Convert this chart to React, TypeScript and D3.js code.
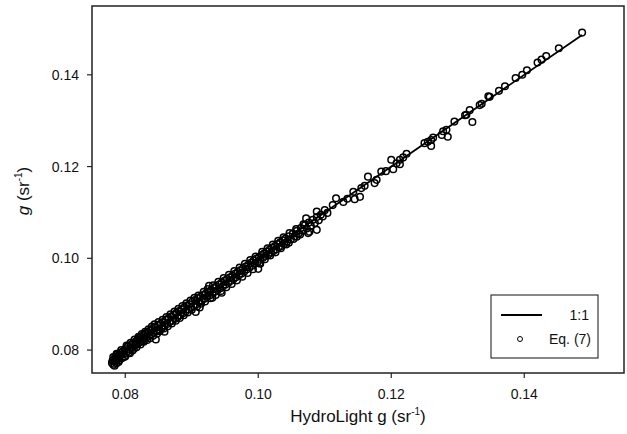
import React from "react";
import * as d3 from "d3";

const hydroG: number[] = [
  0.0780, 0.0781, 0.0782, 0.0783, 0.0784, 0.0785, 0.0786, 0.0787, 0.0788, 0.0789,
  0.0790, 0.0791, 0.0792, 0.0793, 0.0795, 0.0796, 0.0797, 0.0799, 0.0800, 0.0801,
  0.0803, 0.0804, 0.0806, 0.0807, 0.0809, 0.0810, 0.0812, 0.0813, 0.0815, 0.0816,
  0.0818, 0.0819, 0.0821, 0.0822, 0.0824, 0.0826, 0.0827, 0.0829, 0.0831, 0.0832,
  0.0834, 0.0836, 0.0838, 0.0839, 0.0841, 0.0843, 0.0845, 0.0846, 0.0847, 0.0849,
  0.0851, 0.0853, 0.0855, 0.0857, 0.0859, 0.0859, 0.0861, 0.0863, 0.0865, 0.0867,
  0.0869, 0.0871, 0.0873, 0.0875, 0.0877, 0.0879, 0.0881, 0.0883, 0.0885, 0.0887,
  0.0889, 0.0891, 0.0893, 0.0895, 0.0897, 0.0899, 0.0901, 0.0903, 0.0905, 0.0906,
  0.0907, 0.0909, 0.0911, 0.0912, 0.0913, 0.0915, 0.0917, 0.0919, 0.0921, 0.0923,
  0.0925, 0.0926, 0.0927, 0.0929, 0.0931, 0.0931, 0.0933, 0.0935, 0.0937, 0.0939,
  0.0941, 0.0943, 0.0945, 0.0945, 0.0947, 0.0949, 0.0951, 0.0953, 0.0955, 0.0957,
  0.0959, 0.0961, 0.0963, 0.0965, 0.0967, 0.0969, 0.0971, 0.0973, 0.0975, 0.0977,
  0.0979, 0.0981, 0.0983, 0.0985, 0.0987, 0.0989, 0.0991, 0.0993, 0.0995, 0.0997,
  0.0999, 0.1000, 0.1001, 0.1003, 0.1003, 0.1005, 0.1007, 0.1009, 0.1011, 0.1013,
  0.1015, 0.1017, 0.1019, 0.1021, 0.1023, 0.1025, 0.1027, 0.1029, 0.1031, 0.1033,
  0.1035, 0.1037, 0.1039, 0.1041, 0.1043, 0.1046, 0.1046, 0.1049, 0.1052, 0.1055,
  0.1058, 0.1058, 0.1061, 0.1064, 0.1067, 0.1070, 0.1072, 0.1073, 0.1075, 0.1076,
  0.1077, 0.1079, 0.1082, 0.1085, 0.1088, 0.1088, 0.1088, 0.1091, 0.1094, 0.1097,
  0.1100, 0.1104, 0.1112, 0.1117, 0.1128, 0.1134, 0.1143, 0.1145, 0.1153, 0.1155,
  0.1160, 0.1165, 0.1175, 0.1178, 0.1185, 0.1192, 0.1200, 0.1203, 0.1208, 0.1213,
  0.1213, 0.1218, 0.1223, 0.1250, 0.1255, 0.1260, 0.1260, 0.1263, 0.1276, 0.1278,
  0.1283, 0.1285, 0.1295, 0.1311, 0.1313, 0.1318, 0.1322, 0.1333, 0.1336, 0.1346,
  0.1348, 0.1362, 0.1371, 0.1387, 0.1397, 0.1404, 0.1420, 0.1426, 0.1433, 0.1452,
  0.1487,
  0.0782, 0.0784, 0.0787, 0.0790, 0.0794, 0.0798, 0.0802, 0.0805, 0.0808, 0.0811,
  0.0814, 0.0817, 0.0820, 0.0823, 0.0825, 0.0828, 0.0830, 0.0833, 0.0835, 0.0837,
  0.0840, 0.0842, 0.0844, 0.0848, 0.0850, 0.0852, 0.0856, 0.0858, 0.0862, 0.0864,
  0.0868, 0.0870, 0.0874, 0.0876, 0.0880, 0.0882, 0.0886, 0.0888, 0.0892, 0.0894,
  0.0898, 0.0900, 0.0904, 0.0908, 0.0910, 0.0914, 0.0918, 0.0920, 0.0924, 0.0928,
  0.0932, 0.0936, 0.0940, 0.0944, 0.0948, 0.0952, 0.0956, 0.0960, 0.0964, 0.0968,
  0.0972, 0.0976, 0.0980, 0.0984, 0.0988, 0.0992, 0.0996, 0.1002, 0.1006, 0.1010,
  0.1014, 0.1018, 0.1022, 0.1026, 0.1030, 0.1034, 0.1038, 0.1042, 0.1047, 0.1053,
  0.1057, 0.1063, 0.1068,
];

const eqG: number[] = [
  0.0772, 0.0777, 0.0768, 0.0780, 0.0775, 0.0786, 0.0779, 0.0771, 0.0790, 0.0783,
  0.0787, 0.0778, 0.0794, 0.0789, 0.0782, 0.0797, 0.0791, 0.0800, 0.0786, 0.0804,
  0.0797, 0.0808, 0.0801, 0.0793, 0.0812, 0.0806, 0.0815, 0.0803, 0.0818, 0.0811,
  0.0822, 0.0814, 0.0826, 0.0817, 0.0829, 0.0820, 0.0832, 0.0825, 0.0836, 0.0828,
  0.0840, 0.0831, 0.0843, 0.0834, 0.0846, 0.0837, 0.0850, 0.0823, 0.0841, 0.0854,
  0.0845, 0.0857, 0.0848, 0.0861, 0.0840, 0.0853, 0.0866, 0.0857, 0.0869, 0.0861,
  0.0873, 0.0864, 0.0877, 0.0868, 0.0881, 0.0872, 0.0885, 0.0876, 0.0889, 0.0880,
  0.0893, 0.0884, 0.0897, 0.0889, 0.0900, 0.0892, 0.0906, 0.0896, 0.0909, 0.0883,
  0.0900, 0.0913, 0.0904, 0.0893, 0.0916, 0.0908, 0.0920, 0.0912, 0.0923, 0.0916,
  0.0927, 0.0940, 0.0919, 0.0931, 0.0914, 0.0923, 0.0935, 0.0927, 0.0939, 0.0931,
  0.0943, 0.0935, 0.0925, 0.0947, 0.0939, 0.0951, 0.0943, 0.0955, 0.0947, 0.0958,
  0.0951, 0.0962, 0.0955, 0.0966, 0.0959, 0.0970, 0.0963, 0.0974, 0.0967, 0.0978,
  0.0971, 0.0982, 0.0976, 0.0986, 0.0980, 0.0990, 0.0984, 0.0995, 0.0988, 0.0999,
  0.0992, 0.0977, 0.1003, 0.0988, 0.0997, 0.1007, 0.1001, 0.1011, 0.1005, 0.1015,
  0.1008, 0.1019, 0.1012, 0.1023, 0.1016, 0.1027, 0.1020, 0.1031, 0.1024, 0.1035,
  0.1027, 0.1039, 0.1031, 0.1043, 0.1036, 0.1034, 0.1048, 0.1041, 0.1054, 0.1048,
  0.1047, 0.1060, 0.1054, 0.1066, 0.1060, 0.1072, 0.1087, 0.1065, 0.1055, 0.1078,
  0.1058, 0.1071, 0.1084, 0.1077, 0.1062, 0.1090, 0.1102, 0.1083, 0.1095, 0.1091,
  0.1105, 0.1099, 0.1116, 0.1131, 0.1123, 0.1130, 0.1145, 0.1129, 0.1134, 0.1153,
  0.1158, 0.1178, 0.1164, 0.1171, 0.1189, 0.1190, 0.1215, 0.1194, 0.1207, 0.1215,
  0.1205, 0.1220, 0.1228, 0.1251, 0.1254, 0.1258, 0.1245, 0.1263, 0.1269, 0.1277,
  0.1280, 0.1265, 0.1298, 0.1312, 0.1313, 0.1323, 0.1297, 0.1334, 0.1337, 0.1353,
  0.1352, 0.1365, 0.1375, 0.1393, 0.1400, 0.1410, 0.1427, 0.1433, 0.1441, 0.1458,
  0.1492,
  0.0785, 0.0766, 0.0792, 0.0774, 0.0800, 0.0785, 0.0810, 0.0794, 0.0816, 0.0799,
  0.0823, 0.0806, 0.0829, 0.0812, 0.0835, 0.0818, 0.0840, 0.0822, 0.0845, 0.0826,
  0.0851, 0.0831, 0.0856, 0.0836, 0.0861, 0.0841, 0.0866, 0.0847, 0.0872, 0.0852,
  0.0878, 0.0858, 0.0884, 0.0864, 0.0890, 0.0870, 0.0896, 0.0876, 0.0902, 0.0882,
  0.0908, 0.0888, 0.0914, 0.0895, 0.0919, 0.0901, 0.0927, 0.0906, 0.0933, 0.0913,
  0.0941, 0.0920, 0.0949, 0.0929, 0.0957, 0.0937, 0.0964, 0.0944, 0.0972, 0.0952,
  0.0980, 0.0960, 0.0988, 0.0968, 0.0996, 0.0976, 0.1004, 0.0990, 0.1014, 0.0998,
  0.1022, 0.1006, 0.1030, 0.1013, 0.1038, 0.1022, 0.1046, 0.1030, 0.1055, 0.1042,
  0.1064, 0.1052, 0.1074,
];

const xTicks: number[] = [0.08, 0.1, 0.12, 0.14];
const yTicks: number[] = [0.08, 0.1, 0.12, 0.14];
const domainG: [number, number] = [0.075, 0.155];

export default function App() {
  const left = 92, right = 624, top = 6, bottom = 373;
  const x = d3.scaleLinear().domain(domainG).range([left, right]);
  const y = d3.scaleLinear().domain(domainG).range([bottom, top]);
  const pts = hydroG.map((h, i) => [h, eqG[i]] as [number, number]);
  const lo = d3.min(hydroG) as number;
  const hi = d3.max(hydroG) as number;
  const line = d3.line<number>().x((v) => x(v)).y((v) => y(v));
  const font = "'Liberation Sans', Arial, sans-serif";
  const fmt = d3.format(".2f");
  return (
    <svg width={627} height={434} style={{ position: "absolute", left: 0, top: 0, background: "#fff" }} fontFamily={font}>
      <rect x={0} y={0} width={627} height={434} fill="#fff" />
      {pts.map((p, i) => (
        <circle key={i} cx={x(p[0])} cy={y(p[1])} r={3.3} fill="none" stroke="#000" strokeWidth={1.5} />
      ))}
      <path d={line([lo, hi]) as string} stroke="#000" strokeWidth={1.8} fill="none" />
      <rect x={left} y={top} width={right - left} height={bottom - top} fill="none" stroke="#222" strokeWidth={1.5} />
      {xTicks.map((t) => (
        <g key={"x" + t}>
          <line x1={x(t)} x2={x(t)} y1={bottom} y2={bottom + 5} stroke="#222" strokeWidth={1.2} />
          <text x={x(t)} y={bottom + 26} textAnchor="middle" fontSize={14} fill="#111">{fmt(t)}</text>
        </g>
      ))}
      {yTicks.map((t) => (
        <g key={"y" + t}>
          <line x1={left - 5} x2={left} y1={y(t)} y2={y(t)} stroke="#222" strokeWidth={1.2} />
          <text x={left - 13} y={y(t) + 5} textAnchor="end" fontSize={14} fill="#111">{fmt(t)}</text>
        </g>
      ))}
      <text x={(left + right) / 2 - 0} y={422} textAnchor="middle" fontSize={17} fill="#111">
        HydroLight g (sr<tspan dy={-7} fontSize={10}>-1</tspan><tspan dy={7}>)</tspan>
      </text>
      <text transform={`translate(29,${191}) rotate(-90)`} textAnchor="middle" fontSize={17} fill="#111">
        <tspan fontStyle="italic">g</tspan> (sr<tspan dy={-7} fontSize={10}>-1</tspan><tspan dy={7}>)</tspan>
      </text>
      <rect x={491} y={295} width={107} height={63} fill="#fff" stroke="#111" strokeWidth={1} />
      <line x1={501} x2={542} y1={315} y2={315} stroke="#000" strokeWidth={2} />
      <text x={589} y={320} textAnchor="end" fontSize={14} fill="#111">1:1</text>
      <circle cx={520} cy={339} r={2.5} fill="none" stroke="#000" strokeWidth={1} />
      <text x={549} y={344} fontSize={14} fill="#111">Eq. (7)</text>
    </svg>
  );
}
